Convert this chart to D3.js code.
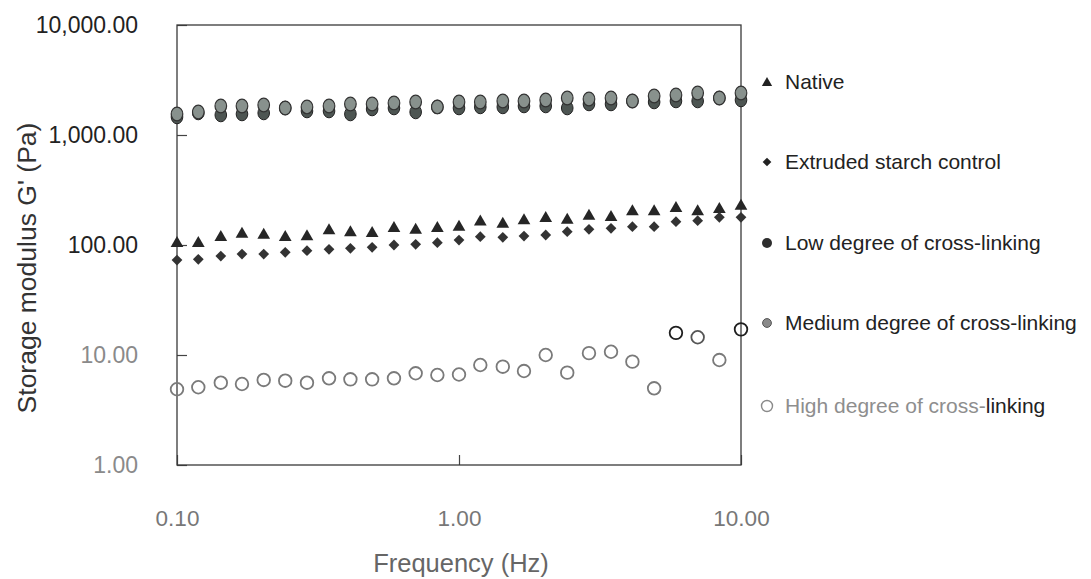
<!DOCTYPE html>
<html>
<head>
<meta charset="utf-8">
<script src="https://cdn.jsdelivr.net/npm/d3@7"></script>
<style>
  html, body { margin: 0; padding: 0; background: #fff; }
  svg { display: block; font-family: "Liberation Sans", Arial, sans-serif; }
</style>
</head>
<body>
<svg id="chart" width="1091" height="579"></svg>
<script>
// Oscillation frequency sweep (Hz)
const frequencies = [0.1, 0.119, 0.143, 0.170, 0.203, 0.242, 0.289, 0.346, 0.412, 0.492, 0.588, 0.702, 0.838,
  1.0, 1.19, 1.43, 1.70, 2.03, 2.42, 2.89, 3.46, 4.12, 4.92, 5.88, 7.02, 8.38, 10.0];

// Storage modulus G' (Pa) for each sample
const native = [103.6, 103.6, 117.5, 125.9, 123.3, 117.5, 119.0, 134.9, 129.4, 127.8, 141.8, 136.9, 141.8,
  145.8, 162.8, 155.2, 166.3, 174.8, 168.8, 183.5, 178.6, 200.8, 200.8, 215.6, 200.8, 211.1, 226.2];
const extrudedControl = [73.0, 74.1, 79.4, 82.8, 82.8, 85.8, 88.8, 91.4, 93.3, 95.3, 100.0, 101.5, 105.0,
  111.0, 119.0, 117.5, 120.7, 123.3, 132.1, 138.9, 141.8, 146.7, 146.7, 162.8, 166.3, 178.6, 178.6];
const lowCrossLinking = [1458, 1585, 1520, 1552, 1585, 1759, 1652, 1652, 1552, 1723, 1759, 1619, 1799,
  1759, 1799, 1799, 1835, 1835, 1759, 1914, 1914, 2037, 1995, 2037, 2037, 2169, 2080];
const mediumCrossLinking = [1552, 1619, 1835, 1835, 1874, 1759, 1799, 1835, 1914, 1914, 1955, 1995, 1799,
  1995, 1995, 2037, 2037, 2080, 2169, 2124, 2169, 2037, 2262, 2311, 2410, 2169, 2410];
const highCrossLinking = [4.88, 5.09, 5.60, 5.45, 5.93, 5.84, 5.60, 6.14, 6.01, 6.01, 6.14, 6.82, 6.58,
  6.65, 8.11, 7.83, 7.15, 10.0, 6.91, 10.4, 10.7, 8.70, 4.98, 15.9, 14.5, 9.0, 17.1];

const yTickValues = [1, 10, 100, 1000, 10000];
const xTickValues = [0.1, 1, 10];
const legendLabels = ["Native", "Extruded starch control", "Low degree of cross-linking",
  "Medium degree of cross-linking", "High degree of cross-linking"];

const svg = d3.select("#chart");

const x = d3.scaleLog().domain([0.1, 10]).range([177, 741]);
const y = d3.scaleLog().domain([1, 10000]).range([465, 25]);

// Y axis: inward ticks, labels right-aligned to the left of the frame
const yAxis = d3.axisLeft(y).tickValues(yTickValues).tickFormat(d3.format(",.2f"))
  .tickSizeInner(-10).tickSizeOuter(0).tickPadding(39);
const gy = svg.append("g").attr("transform", `translate(${x(0.1)},0)`).call(yAxis);
gy.select(".domain").remove();
gy.selectAll(".tick line").attr("stroke", "#444").attr("stroke-width", 1.2);
gy.selectAll(".tick text")
  .attr("font-size", 23).attr("font-family", "Liberation Sans, Arial, sans-serif")
  .attr("fill", d => d >= 100 ? "#222" : "#8a8a8a");

// X axis
const xAxis = d3.axisBottom(x).tickValues(xTickValues).tickFormat(d3.format(".2f"))
  .tickSizeInner(-10).tickSizeOuter(0).tickPadding(45);
const gx = svg.append("g").attr("transform", `translate(0,${y(1)})`).call(xAxis);
gx.select(".domain").remove();
gx.selectAll(".tick line").attr("stroke", "#444").attr("stroke-width", 1.2);
gx.selectAll(".tick text")
  .attr("font-size", 22.5).attr("font-family", "Liberation Sans, Arial, sans-serif")
  .attr("fill", "#777");

// Plot frame
svg.append("rect")
  .attr("x", x(0.1)).attr("y", y(10000))
  .attr("width", x(10) - x(0.1)).attr("height", y(1) - y(10000))
  .attr("fill", "none").attr("stroke", "#3a3a3a").attr("stroke-width", 1.3);

// Axis titles
svg.append("text")
  .attr("x", 461).attr("y", 572)
  .attr("text-anchor", "middle").attr("font-size", 25.5).attr("fill", "#666")
  .text("Frequency (Hz)");
svg.append("text")
  .attr("transform", "translate(36,268) rotate(-90)")
  .attr("text-anchor", "middle").attr("font-size", 26.5).attr("fill", "#333")
  .text("Storage modulus G' (Pa)");

const pts = svg.append("g");
const byFreq = arr => frequencies.map((f, i) => ({ f, v: arr[i], i }));

// Low / medium cross-linking: filled circles (low drawn first, medium above)
pts.append("g").selectAll("ellipse").data(byFreq(lowCrossLinking)).join("ellipse")
  .attr("cx", d => x(d.f)).attr("cy", d => y(d.v))
  .attr("rx", 5.8).attr("ry", 6.8)
  .attr("fill", "#4d5552").attr("stroke", "#222").attr("stroke-width", 1);
pts.append("g").selectAll("ellipse").data(byFreq(mediumCrossLinking)).join("ellipse")
  .attr("cx", d => x(d.f)).attr("cy", d => y(d.v))
  .attr("rx", 5.8).attr("ry", 6.8)
  .attr("fill", "#88918d").attr("stroke", "#333").attr("stroke-width", 1.2);

// Native: triangles
const tri = d3.symbol().type(d3.symbolTriangle).size(70);
pts.append("g").selectAll("path").data(byFreq(native)).join("path")
  .attr("d", tri)
  .attr("transform", d => `translate(${x(d.f)},${y(d.v)})`)
  .attr("fill", "#262626");

// Extruded control: diamonds
const sq = d3.symbol().type(d3.symbolSquare).size(58);
pts.append("g").selectAll("path").data(byFreq(extrudedControl)).join("path")
  .attr("d", sq)
  .attr("transform", d => `translate(${x(d.f)},${y(d.v)}) rotate(45)`)
  .attr("fill", "#333");

// High cross-linking: open circles
pts.append("g").selectAll("circle").data(byFreq(highCrossLinking)).join("circle")
  .attr("cx", d => x(d.f)).attr("cy", d => y(d.v)).attr("r", 6.3)
  .attr("fill", "none")
  .attr("stroke", d => (d.i === 23 || d.i === 26) ? "#1e1e1e" : d.i === 24 ? "#555" : "#7a7a7a")
  .attr("stroke-width", 1.8);

// Legend
const legendY = [82, 162, 243, 323, 406];
const lg = svg.append("g");
const items = lg.selectAll("g").data(legendLabels).join("g")
  .attr("transform", (d, i) => `translate(767,${legendY[i]})`);

items.each(function (d, i) {
  const g = d3.select(this);
  if (i === 0) {
    g.append("path").attr("d", d3.symbol().type(d3.symbolTriangle).size(46))
      .attr("transform", "translate(0,1)").attr("fill", "#222");
  } else if (i === 1) {
    g.append("path").attr("d", d3.symbol().type(d3.symbolSquare).size(38))
      .attr("transform", "rotate(45)").attr("fill", "#222");
  } else if (i === 2) {
    g.append("circle").attr("r", 5).attr("fill", "#2e2e2e");
  } else if (i === 3) {
    g.append("circle").attr("r", 4.4).attr("fill", "#8a8a8a").attr("stroke", "#555").attr("stroke-width", 1);
  } else {
    g.append("circle").attr("r", 5.5).attr("fill", "none").attr("stroke", "#8a8a8a").attr("stroke-width", 1.4);
  }
  const t = g.append("text").attr("x", 18).attr("dy", "0.35em")
    .attr("font-size", 21).attr("fill", "#222");
  if (i === 4) {
    t.append("tspan").attr("fill", "#8e8e8e").text("High degree of cross-");
    t.append("tspan").attr("fill", "#222").text("linking");
  } else {
    t.text(d);
  }
});
</script>
</body>
</html>
